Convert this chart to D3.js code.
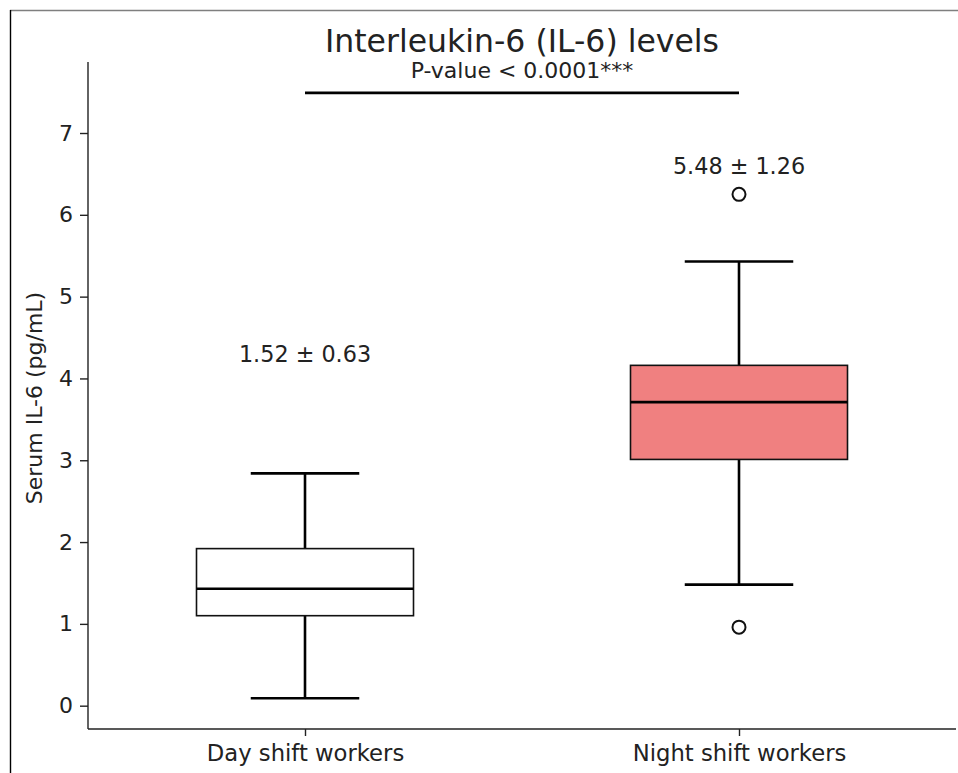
<!DOCTYPE html>
<html>
<head>
<meta charset="utf-8">
<script src="https://cdn.jsdelivr.net/npm/d3@7"></script>
<style>
  html, body { margin: 0; padding: 0; background: #fff; }
  svg { display: block; }
  text { font-family: "DejaVu Sans", sans-serif; fill: #222; }
</style>
</head>
<body>
<svg id="chart" width="958" height="773"></svg>
<script>
// ---- data ----
const categories = ["Day shift workers", "Night shift workers"];
const whiskerLow  = [0.09, 1.48];
const q1          = [1.10, 3.01];
const median      = [1.43, 3.71];
const q3          = [1.92, 4.16];
const whiskerHigh = [2.84, 5.43];
const outliers    = [[], [6.25, 0.96]];
const boxFill     = ["#ffffff", "#f08080"];
const statLabels  = ["1.52 ± 0.63", "5.48 ± 1.26"];
const statY       = [4.2, 6.5];
const sigY        = 7.49;
const sigLabel    = "P-value < 0.0001***";
const yTicks      = [0, 1, 2, 3, 4, 5, 6, 7];
const title       = "Interleukin-6 (IL-6) levels";
const yLabel      = "Serum IL-6 (pg/mL)";

// ---- layout ----
const svg = d3.select("#chart");
const mLeft = 88, mRight = 956, mTop = 62, mBottom = 729;

// frame around figure
svg.append("line").attr("x1", 10).attr("x2", 958).attr("y1", 10.5).attr("y2", 10.5)
  .attr("stroke", "#7f7f7f").attr("stroke-width", 1.6);
svg.append("line").attr("x1", 10.5).attr("x2", 10.5).attr("y1", 10).attr("y2", 773)
  .attr("stroke", "#000").attr("stroke-width", 1.4);

const x = d3.scaleLinear().domain([0.5, 2.5]).range([mLeft, mRight]);
const y = d3.scaleLinear().domain([-0.285, 7.868]).range([mBottom, mTop]);
const pos = categories.map((d, i) => i + 1);
const boxW = 0.5, capW = 0.25;

// axes
const yAxis = d3.axisLeft(y).tickValues(yTicks).tickSize(8).tickPadding(7).tickFormat(d3.format("d"));
const gy = svg.append("g").attr("transform", `translate(${mLeft},0)`).call(yAxis);
gy.select(".domain").attr("d", `M0,${mTop}V${mBottom}`).attr("stroke", "#222").attr("stroke-width", 1.4);
gy.selectAll(".tick line").attr("stroke", "#222").attr("stroke-width", 1.4);
gy.selectAll(".tick text").attr("font-size", "22px").attr("fill", "#222");

const xAxis = d3.axisBottom(x).tickValues(pos).tickSize(7).tickPadding(9).tickFormat((d, i) => categories[i]);
const gx = svg.append("g").attr("transform", `translate(0,${mBottom})`).call(xAxis);
gx.select(".domain").attr("d", `M${mLeft},0H${mRight}`).attr("stroke", "#222").attr("stroke-width", 1.4);
gx.selectAll(".tick line").attr("stroke", "#222").attr("stroke-width", 1.4);
gx.selectAll(".tick text").attr("font-size", "22.7px").attr("fill", "#222");

// y label
svg.append("text")
  .attr("transform", `translate(42,398) rotate(-90)`)
  .attr("text-anchor", "middle").attr("font-size", "22px").text(yLabel);

// boxes
const g = svg.append("g");
pos.forEach((p, i) => {
  const cx = x(p);
  g.append("line").attr("x1", cx).attr("x2", cx).attr("y1", y(whiskerLow[i])).attr("y2", y(q1[i]))
    .attr("stroke", "#000").attr("stroke-width", 2.6);
  g.append("line").attr("x1", cx).attr("x2", cx).attr("y1", y(q3[i])).attr("y2", y(whiskerHigh[i]))
    .attr("stroke", "#000").attr("stroke-width", 2.6);
  [whiskerLow[i], whiskerHigh[i]].forEach(v => {
    g.append("line").attr("x1", x(p - capW / 2)).attr("x2", x(p + capW / 2))
      .attr("y1", y(v)).attr("y2", y(v)).attr("stroke", "#000").attr("stroke-width", 2.6);
  });
  g.append("rect").attr("x", x(p - boxW / 2)).attr("width", x(p + boxW / 2) - x(p - boxW / 2))
    .attr("y", y(q3[i])).attr("height", y(q1[i]) - y(q3[i]))
    .attr("fill", boxFill[i]).attr("stroke", "#111").attr("stroke-width", 1.6);
  g.append("line").attr("x1", x(p - boxW / 2)).attr("x2", x(p + boxW / 2))
    .attr("y1", y(median[i])).attr("y2", y(median[i])).attr("stroke", "#000").attr("stroke-width", 2.6);
  outliers[i].forEach(v => {
    g.append("circle").attr("cx", cx).attr("cy", y(v)).attr("r", 6.5)
      .attr("fill", "none").attr("stroke", "#111").attr("stroke-width", 2);
  });
  svg.append("text").attr("x", cx).attr("y", y(statY[i])).attr("text-anchor", "middle")
    .attr("font-size", "22.3px").text(statLabels[i]);
});

// significance bar
svg.append("line").attr("x1", x(1)).attr("x2", x(2)).attr("y1", y(sigY)).attr("y2", y(sigY))
  .attr("stroke", "#000").attr("stroke-width", 2.8);
svg.append("text").attr("x", (x(1) + x(2)) / 2).attr("y", 78).attr("text-anchor", "middle")
  .attr("font-size", "22px").text(sigLabel);

// title
svg.append("text").attr("x", (mLeft + mRight) / 2).attr("y", 52).attr("text-anchor", "middle")
  .attr("font-size", "31.5px").text(title);
</script>
</body>
</html>
